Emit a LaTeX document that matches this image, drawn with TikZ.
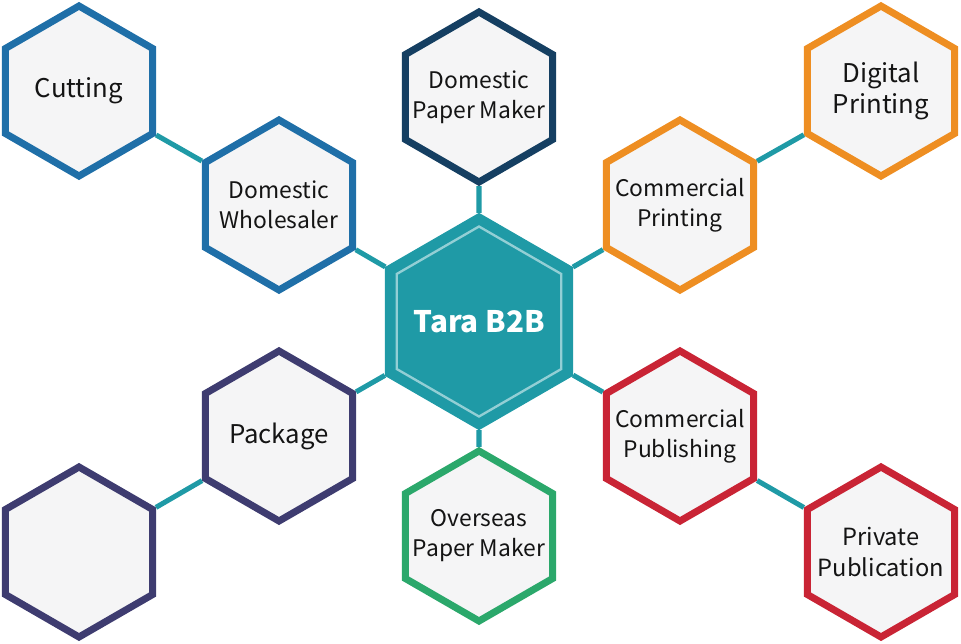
\documentclass[tikz,border=0pt]{standalone}
\usepackage{fontspec}
\setmainfont{Noto Sans CJK KR}
\usetikzlibrary{shapes.geometric}
\definecolor{tealc}{HTML}{1F9AA6}
\definecolor{innerc}{HTML}{93CFD5}
\definecolor{bluec}{HTML}{1F6FA8}
\definecolor{navyc}{HTML}{153F62}
\definecolor{orangec}{HTML}{EE8E22}
\definecolor{indigoc}{HTML}{3E3C70}
\definecolor{greenc}{HTML}{2BA86B}
\definecolor{redc}{HTML}{C92435}
\definecolor{hexfill}{HTML}{F5F5F6}
\definecolor{textc}{HTML}{141414}

\begin{document}
\begin{tikzpicture}[x=0.03cm,y=-0.03cm,
  hexa/.style={regular polygon,regular polygon sides=6,shape border rotate=30,
    minimum size=5.1cm,inner sep=-40pt,line width=6pt,fill=hexfill,text=textc,
    align=center,font=\fontsize{19.5}{25.5}\selectfont},
  big/.style={font=\fontsize{22}{27}\selectfont},
  link/.style={draw=tealc,line width=4.3pt}]
\useasboundingbox (0,0) rectangle (961,643);

\node[hexa,draw=tealc,fill=tealc,line width=1pt,minimum size=6.48cm] (tara) at (479,321.5) {};
\node[hexa,draw=innerc,fill=none,line width=2pt,minimum size=5.7cm,text=white,
  font=\bfseries\fontsize{25.3}{30}\selectfont] (taratext) at (tara.center) {Tara B2B};

\node[hexa,draw=bluec,big] (cut) at (79,91) {Cutting};
\node[hexa,draw=bluec] (whole) at (279,205) {Domestic\\Wholesaler};
\node[hexa,draw=navyc] (dpm) at (479,97) {Domestic\\Paper Maker};
\node[hexa,draw=orangec,big] (digital) at (881,91) {Digital\\Printing};
\node[hexa,draw=orangec] (cprint) at (680,205) {Commercial\\Printing};
\node[hexa,draw=indigoc,big] (pack) at (279,436) {Package};
\node[hexa,draw=indigoc] (blank) at (79,552) {};
\node[hexa,draw=greenc] (opm) at (479,536) {Overseas\\Paper Maker};
\node[hexa,draw=redc] (cpub) at (680,436) {Commercial\\Publishing};
\node[hexa,draw=redc,font=\fontsize{20.2}{26}\selectfont] (priv) at (881,552) {Private\\Publication};

\draw[link] (tara) -- (dpm);
\draw[link] (tara) -- (opm);
\draw[link] (tara) -- (whole);
\draw[link] (tara) -- (cprint);
\draw[link] (tara) -- (pack);
\draw[link] (tara) -- (cpub);
\draw[link] (whole) -- (cut);
\draw[link] (cprint) -- (digital);
\draw[link] (pack) -- (blank);
\draw[link] (cpub) -- (priv);
\end{tikzpicture}
\end{document}
